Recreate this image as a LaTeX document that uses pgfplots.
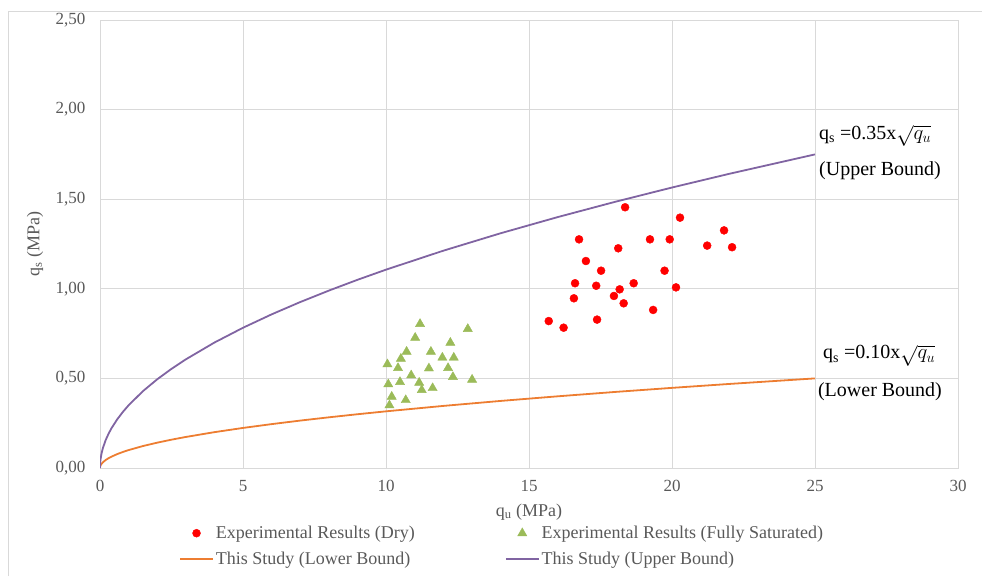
\documentclass[border=0pt]{standalone}
\usepackage{fontspec}
\setmainfont{Liberation Serif}
\usepackage{pgfplots}
\pgfplotsset{compat=1.18}
\definecolor{gridc}{HTML}{D9D9D9}
\definecolor{txt}{HTML}{595959}
\definecolor{dryc}{HTML}{FF0000}
\definecolor{satc}{HTML}{9BBB59}
\definecolor{lowc}{HTML}{ED7D31}
\definecolor{upc}{HTML}{8064A2}

\begin{document}
\begin{tikzpicture}
\useasboundingbox (0pt,0pt) rectangle (982pt,576pt);
\draw[gridc, line width=1pt] (8pt,0pt) -- (8pt,564pt) -- (982pt,564pt);
\begin{axis}[
  at={(100pt,108pt)}, anchor=south west,
  scale only axis, width=858pt, height=448pt,
  xmin=0, xmax=30, ymin=0, ymax=2.5,
  xtick={0,5,...,30}, ytick={0,0.5,1,1.5,2,2.5},
  grid=major, grid style={gridc, line width=0.8pt},
  axis line style={gridc, line width=0.8pt},
  tick style={draw=none},
  /pgf/number format/assume math mode=true,
  ticklabel style={font=\fontsize{17}{19}\selectfont, text=txt},
  yticklabel style={xshift=-11pt, /pgf/number format/.cd, fixed, fixed zerofill, precision=2, use comma},
  xticklabel style={yshift=-9pt},
  xlabel={q\textsubscript{u} (MPa)},
  ylabel={q\textsubscript{s} (MPa)},
  every axis x label/.style={at={(rel axis cs:0.5,0)}, anchor=center, yshift=-44pt},
  every axis y label/.style={at={(rel axis cs:0,0.5)}, anchor=center, xshift=-65pt, rotate=90},
  label style={font=\fontsize{18}{21}\selectfont, text=txt},
  legend columns=2,
  legend style={at={(0.092,-0.125)}, anchor=north west, draw=none, fill=none,
    inner sep=0pt, font=\fontsize{18}{21}\selectfont, text=txt, row sep=8pt,
    /tikz/every even column/.append style={column sep=88pt}},
  legend cell align=left,
  legend image code/.code={\draw[mark repeat=2,mark phase=2,#1] plot coordinates {(0pt,0pt) (16.5pt,0pt) (33pt,0pt)};},
]
\addplot[only marks, mark=*, mark size=4pt, color=dryc] coordinates {
(18.36,1.455) (20.28,1.397) (21.82,1.326) (16.75,1.276) (19.23,1.276) (19.92,1.276)
(21.23,1.241) (22.10,1.232) (18.12,1.226) (16.99,1.155) (17.52,1.101) (19.74,1.101)
(16.61,1.031) (17.35,1.017) (18.66,1.031) (18.17,0.997) (20.14,1.008) (17.97,0.960)
(16.57,0.947) (18.31,0.919) (19.34,0.882) (15.69,0.820) (17.38,0.828) (16.21,0.783)
};
\addlegendentry{Experimental Results (Dry)}
\addplot[only marks, mark=triangle*, mark size=5.3pt, color=satc] coordinates {
(11.19,0.804) (12.86,0.776) (11.02,0.727) (12.25,0.699) (10.72,0.649) (11.57,0.649)
(10.52,0.610) (11.97,0.616) (12.37,0.616) (10.05,0.579) (10.42,0.558) (11.50,0.556)
(12.17,0.558) (10.88,0.517) (12.34,0.508) (13.01,0.493) (10.08,0.467) (10.49,0.480)
(11.16,0.476) (11.25,0.435) (11.63,0.446) (10.20,0.398) (10.69,0.379) (10.12,0.350)
};
\addlegendentry{Experimental Results (Fully Saturated)}
\addplot[color=lowc, line width=1.8pt, no marks] coordinates {
(0,0) (0.005,0.0071) (0.01,0.01) (0.02,0.0141) (0.05,0.0224) (0.1,0.0316) (0.2,0.0447)
(0.3,0.0548) (0.4,0.0632) (0.6,0.0775) (0.8,0.0894) (1,0.1) (1.5,0.1225) (2,0.1414)
(2.5,0.1581) (3,0.1732) (4,0.2) (5,0.2236) (6,0.2449) (7,0.2646) (8,0.2828) (9,0.3)
(10,0.3162) (12,0.3464) (14,0.3742) (16,0.4) (18,0.4243) (20,0.4472) (22,0.4690) (25,0.5)
};
\addlegendentry{This Study (Lower Bound)}
\addplot[color=upc, line width=1.8pt, no marks] coordinates {
(0,0) (0.005,0.0247) (0.01,0.035) (0.02,0.0495) (0.05,0.0783) (0.1,0.1107) (0.2,0.1565)
(0.3,0.1917) (0.4,0.2214) (0.6,0.2711) (0.8,0.3130) (1,0.35) (1.5,0.4287) (2,0.4950)
(2.5,0.5534) (3,0.6062) (4,0.70) (5,0.7826) (6,0.8573) (7,0.9260) (8,0.9899) (9,1.05)
(10,1.1068) (12,1.2124) (14,1.3096) (16,1.40) (18,1.4849) (20,1.5652) (22,1.6416) (25,1.75)
};
\addlegendentry{This Study (Upper Bound)}
\node[anchor=west, inner sep=0pt, font=\fontsize{20}{24}\selectfont] at (axis cs:25.14,1.855) {q\textsubscript{s} =0.35x$\sqrt{q_u}$};
\node[anchor=west, inner sep=0pt, font=\fontsize{20}{24}\selectfont] at (axis cs:25.14,1.657) {(Upper Bound)};
\node[anchor=west, inner sep=0pt, font=\fontsize{20}{24}\selectfont] at (axis cs:25.28,0.628) {q\textsubscript{s} =0.10x$\sqrt{q_u}$};
\node[anchor=west, inner sep=0pt, font=\fontsize{20}{24}\selectfont] at (axis cs:25.10,0.424) {(Lower Bound)};
\end{axis}
\end{tikzpicture}
\end{document}
